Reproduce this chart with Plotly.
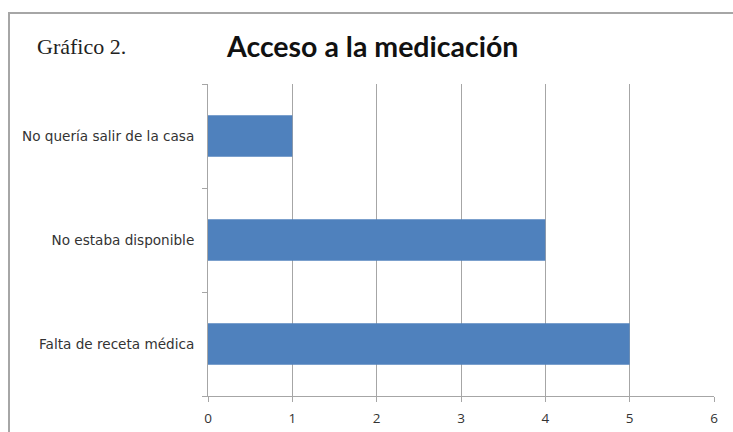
import plotly.graph_objects as go

categories = ["Falta de receta médica", "No estaba disponible", "No quería salir de la casa"]
values = [5, 4, 1]
x_ticks = [0, 1, 2, 3, 4, 5, 6]

W, H = 733, 432
L, R, T, B = 208, 19, 84, 36
pw, ph = W - L - R, H - T - B

def px(x):
    return (x - L) / pw

def py(y):
    return (H - B - y) / ph

fig = go.Figure(go.Bar(
    x=values, y=categories, orientation="h",
    marker=dict(color="#4F81BD", line=dict(width=0)),
))

fig.update_layout(
    width=W, height=H,
    margin=dict(l=L, r=R, t=T, b=B),
    paper_bgcolor="white", plot_bgcolor="white",
    bargap=0.6,
    showlegend=False,
    font=dict(family="DejaVu Sans", color="#333333"),
    xaxis=dict(
        range=[0, 6], tickvals=x_ticks, showgrid=True, gridcolor="#a6a6a6", gridwidth=1,
        showline=True, linecolor="#a6a6a6", linewidth=1,
        ticks="outside", ticklen=5, tickcolor="#a6a6a6",
        tickfont=dict(family="Open Sans", size=13.5, color="#333333"),
        ticklabelstandoff=5, automargin=False,
        zeroline=False, fixedrange=True,
    ),
    yaxis=dict(
        showgrid=False, showline=True, linecolor="#a6a6a6", linewidth=1,
        ticks="outside", ticklen=5, tickcolor="#a6a6a6", tickson="boundaries",
        tickfont=dict(family="DejaVu Sans", size=13.6, color="#333333"),
        ticklabelstandoff=10, automargin=False,
    ),
    shapes=[dict(type="rect", xref="paper", yref="paper",
                 x0=px(9), x1=px(745), y0=py(445), y1=py(13),
                 line=dict(color="#a6a6a6", width=2), layer="below")],
    annotations=[
        dict(text="<b>Acceso a la medicación</b>", xref="paper", yref="paper",
             x=px(372), y=py(46), xanchor="center", yanchor="middle", showarrow=False,
             font=dict(family="Lato", size=28.5, color="#111111")),
        dict(text="Gráfico 2.", xref="paper", yref="paper",
             x=px(35), y=py(46), xanchor="left", yanchor="middle", showarrow=False,
             font=dict(family="Liberation Serif", size=22, color="#222222")),
    ],
)

fig.write_html("out.html")
